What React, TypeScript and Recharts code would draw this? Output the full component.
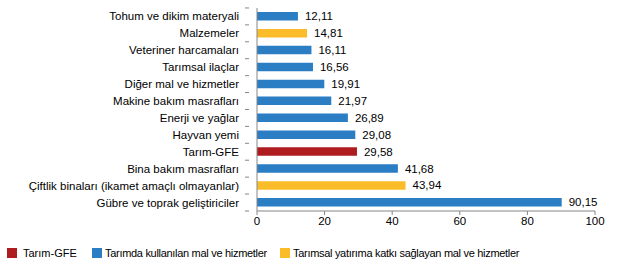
import React from "react";
import { BarChart, Bar, XAxis, YAxis, LabelList } from "recharts";

const categories = [
  "Tohum ve dikim materyali",
  "Malzemeler ",
  "Veteriner harcamaları",
  "Tarımsal ilaçlar",
  "Diğer mal ve hizmetler",
  "Makine bakım masrafları",
  "Enerji ve yağlar",
  "Hayvan yemi",
  "Tarım-GFE",
  "Bina bakım masrafları",
  "Çiftlik binaları (ikamet amaçlı olmayanlar)",
  "Gübre ve toprak geliştiriciler",
];
const values = [12.11, 14.81, 16.11, 16.56, 19.91, 21.97, 26.89, 29.08, 29.58, 41.68, 43.94, 90.15];
const groups = [1, 2, 1, 1, 1, 1, 1, 1, 0, 1, 2, 1];
const groupNames = [
  "Tarım-GFE",
  "Tarımda kullanılan mal ve hizmetler",
  "Tarımsal yatırıma katkı sağlayan mal ve hizmetler",
];
const xTicks = [0, 20, 40, 60, 80, 100];

const COLORS = ["#AE1C1F", "#2B7DC4", "#FBBC2A"];
const FONT = "'Liberation Sans', Arial, sans-serif";

const data = categories.map((c, i) => ({ name: c, value: values[i], fill: COLORS[groups[i]] }));

const YTick = (props: any) => {
  const { x, y, payload, index } = props;
  const half = 8.5;
  return (
    <g>
      <text x={x - 10} y={y} dy={4} textAnchor="end" fontSize={11.5} fill="#000" fontFamily={FONT}>
        {payload.value}
      </text>
      <line x1={x - 4} x2={x} y1={y - half} y2={y - half} stroke="#868686" />
      {index === categories.length - 1 && (
        <line x1={x - 4} x2={x} y1={y + half} y2={y + half} stroke="#868686" />
      )}
    </g>
  );
};

export default function App() {
  return (
    <div style={{ position: "absolute", left: 0, top: 0, width: 627, height: 271, background: "#fff", fontFamily: FONT }}>
      <BarChart
        width={627}
        height={271}
        data={data}
        layout="vertical"
        margin={{ top: 8, right: 32, bottom: 40, left: 0 }}
      >
        <XAxis
          type="number"
          dataKey="value"
          domain={[0, 100]}
          ticks={xTicks}
          tick={{ fontSize: 11.5, fill: "#000", fontFamily: FONT }}
          tickLine={{ stroke: "#868686" }}
          tickSize={4}
          axisLine={{ stroke: "#868686" }}
          height={20}
        />
        <YAxis
          type="category"
          dataKey="name"
          width={257}
          tick={<YTick />}
          tickLine={false}
          axisLine={{ stroke: "#868686" }}
          interval={0}
        />
        <Bar dataKey="value" barSize={8.5} isAnimationActive={false}>
          <LabelList
            dataKey="value"
            position="right"
            offset={7}
            formatter={(v: any) => Number(v).toFixed(2).replace(".", ",")}
            style={{ fontSize: 11.5, fill: "#000", fontFamily: FONT }}
          />
        </Bar>
      </BarChart>
      <div style={{ position: "absolute", top: 247, left: 0, width: 627, height: 14, fontSize: 11, letterSpacing: -0.3, color: "#000" }}>
        {groupNames.map((g, i) => (
          <div
            key={i}
            style={{ position: "absolute", left: [7, 92, 280][i], top: 0, display: "flex", alignItems: "center", whiteSpace: "nowrap" }}
          >
            <span style={{ display: "inline-block", width: 10, height: 10, background: COLORS[i], marginRight: [6, 3, 3][i] }} />
            <span style={{ letterSpacing: i === 0 ? 0 : -0.3 }}>{g}</span>
          </div>
        ))}
      </div>
    </div>
  );
}
